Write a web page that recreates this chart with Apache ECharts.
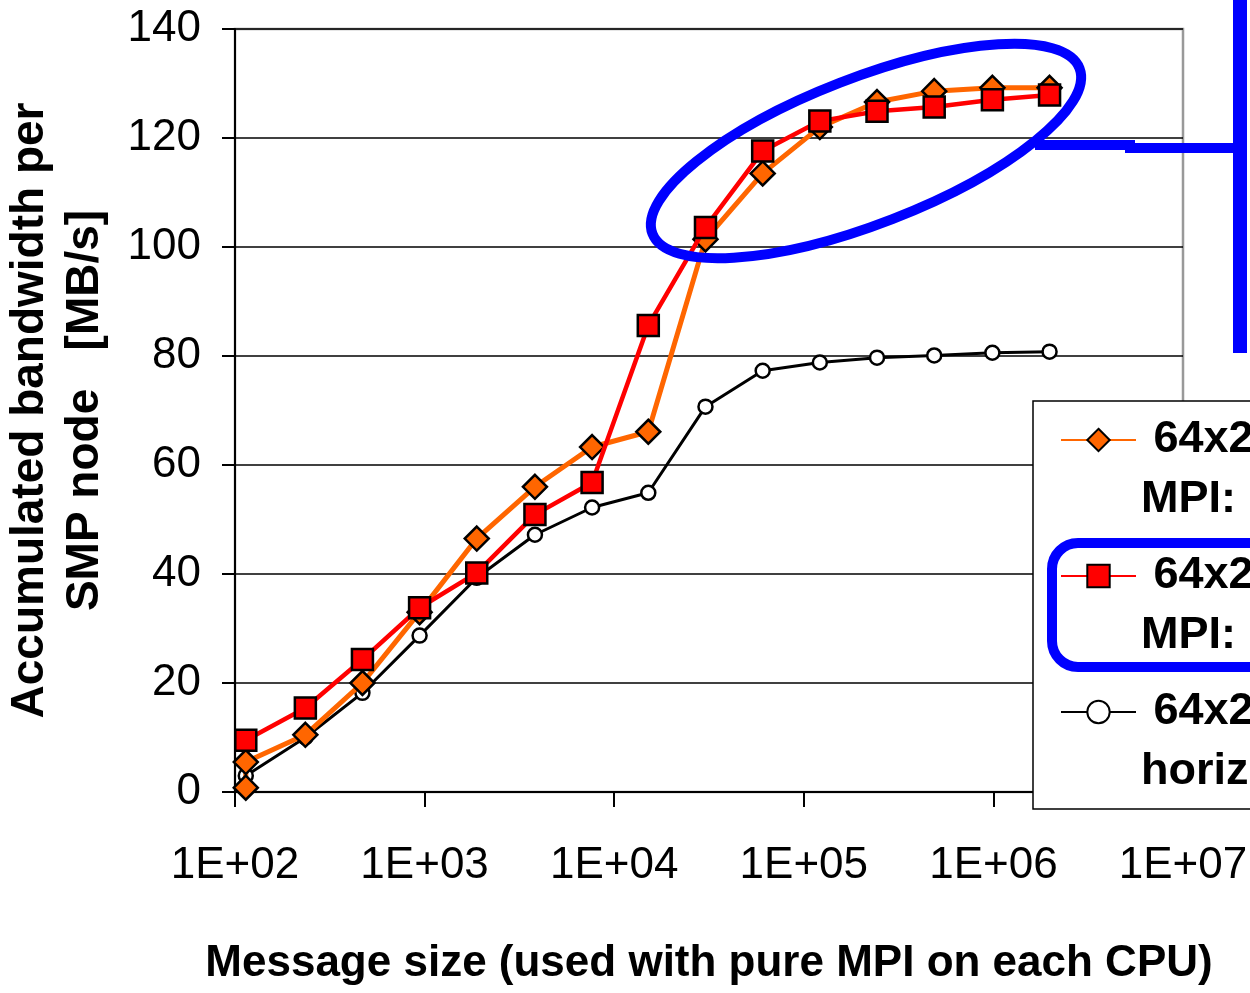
<!DOCTYPE html>
<html><head><meta charset="utf-8">
<script src="https://cdn.jsdelivr.net/npm/echarts@6/dist/echarts.min.js"></script>
<style>html,body{margin:0;padding:0;background:#fff}#c{width:1250px;height:993px}</style>
</head><body><div id="c"></div>
<script>
// ---- data ----
const msgSizes = [114, 235, 470, 941, 1884, 3819, 7646, 15130, 30300, 60690, 121500, 243300, 487300, 987900, 1978000];
const orangeSizes = [114, 114, 235, 470, 941, 1884, 3819, 7646, 15130, 30300, 60690, 121500, 243300, 487300, 987900, 1978000];
const orangeValues = [0.8, 5.5, 10.5, 20.0, 33.0, 46.5, 56.0, 63.3, 66.1, 101.4, 113.5, 122.0, 126.6, 128.6, 129.2, 129.2];
const redValues = [9.5, 15.4, 24.3, 33.8, 40.2, 50.9, 56.8, 85.6, 103.6, 117.6, 123.1, 124.9, 125.7, 127.0, 127.9];
const blackValues = [3.0, 10.0, 18.2, 28.7, 39.3, 47.2, 52.2, 54.9, 70.7, 77.3, 78.8, 79.7, 80.1, 80.6, 80.8];
const xTickLabels = ['1E+02', '1E+03', '1E+04', '1E+05', '1E+06', '1E+07'];
const seriesNames = ['orange', 'red', 'black'];
const legendLines = {
  orange: [' 64x2 pure', 'MPI: horizontal + vertical'],
  red: [' 64x2 mixed', 'MPI: horizontal + vertical'],
  black: [' 64x2 pure MPI:', 'horizontal only']
};

const FONT = '"Liberation Sans", Arial, sans-serif';
const pair = (xs, ys) => xs.map((x, i) => [x, ys[i]]);

const chart = echarts.init(document.getElementById('c'), null, {renderer: 'canvas'});
chart.setOption({
  animation: false,
  backgroundColor: '#fff',
  grid: {left: 235, right: 67, top: 29, bottom: 201, show: true, borderColor: '#999', borderWidth: 2.5, backgroundColor: 'transparent', containLabel: false, outerBoundsMode: 'none'},
  xAxis: {
    type: 'log', logBase: 10, min: 100, max: 10000000, splitNumber: 5,
    axisLine: {show: true, lineStyle: {color: '#000', width: 2}},
    axisTick: {show: true, inside: false, length: 15, lineStyle: {color: '#000', width: 2}},
    minorTick: {show: false},
    splitLine: {show: false},
    axisLabel: {
      margin: 52, color: '#000', fontSize: 44, fontFamily: FONT,
      formatter: v => xTickLabels[Math.round(Math.log10(v)) - 2]
    },
    name: 'Message size (used with pure MPI on each CPU)',
    nameLocation: 'middle', nameGap: 150,
    nameTextStyle: {color: '#000', fontSize: 44, fontWeight: 'bold', fontFamily: FONT}
  },
  yAxis: {
    type: 'value', min: 0, max: 140, interval: 20,
    axisLine: {show: true, lineStyle: {color: '#000', width: 2}},
    axisTick: {show: true, inside: false, length: 13, lineStyle: {color: '#000', width: 2}},
    splitLine: {show: true, lineStyle: {color: '#000', width: 1.6}},
    axisLabel: {margin: 34, color: '#000', fontSize: 44, fontFamily: FONT},
    name: 'Accumulated bandwidth per\nSMP node   [MB/s]',
    nameLocation: 'middle', nameGap: 122,
    nameTextStyle: {color: '#000', fontSize: 46, fontWeight: 'bold', fontFamily: FONT, lineHeight: 55}
  },
  legend: {
    orient: 'vertical', left: 1060, top: 350, padding: 0, itemGap: -44,
    itemWidth: 75, itemHeight: 28, z: 6,
    data: seriesNames,
    formatter: n => ' \n' + legendLines[n].join('\n'),
    textStyle: {color: '#000', fontSize: 45, fontWeight: 'bold', fontFamily: FONT, lineHeight: 60},
    selectedMode: false
  },
  series: [
    {
      name: 'orange', type: 'line', z: 3, data: pair(orangeSizes, orangeValues),
      symbol: 'diamond', symbolSize: 24,
      lineStyle: {color: '#FF6600', width: 5},
      itemStyle: {color: '#FF6600', borderColor: '#000', borderWidth: 2.5}
    },
    {
      name: 'red', type: 'line', z: 4, data: pair(msgSizes, redValues),
      symbol: 'rect', symbolSize: 21,
      lineStyle: {color: '#FF0000', width: 4.5},
      itemStyle: {color: '#FF0000', borderColor: '#000', borderWidth: 2.5}
    },
    {
      name: 'black', type: 'line', z: 2, data: pair(msgSizes, blackValues),
      symbol: 'circle', symbolSize: 14,
      lineStyle: {color: '#000', width: 3},
      itemStyle: {color: '#fff', borderColor: '#000', borderWidth: 2.5}
    }
  ],
  graphic: [
    {type: 'rect', z: 5, shape: {x: 1033, y: 401, width: 260, height: 408}, style: {fill: '#fff', stroke: '#000', lineWidth: 1.5}},
    {type: 'rect', z: 10, shape: {x: 1052, y: 543, width: 260, height: 124, r: 26}, style: {fill: null, stroke: '#0000FF', lineWidth: 10}},
    {type: 'ellipse', z: 10, x: 866, y: 151, rotation: 0.37, shape: {cx: 0, cy: 0, rx: 229, ry: 73}, style: {fill: null, stroke: '#0000FF', lineWidth: 10}},
    {type: 'polyline', z: 10, shape: {points: [[1035, 145], [1130, 145], [1130, 148], [1240, 148]]}, style: {fill: null, stroke: '#0000FF', lineWidth: 10}},
    {type: 'rect', z: 10, shape: {x: 1233, y: 0, width: 14, height: 353}, style: {fill: '#0000FF'}}
  ]
});
</script></body></html>
